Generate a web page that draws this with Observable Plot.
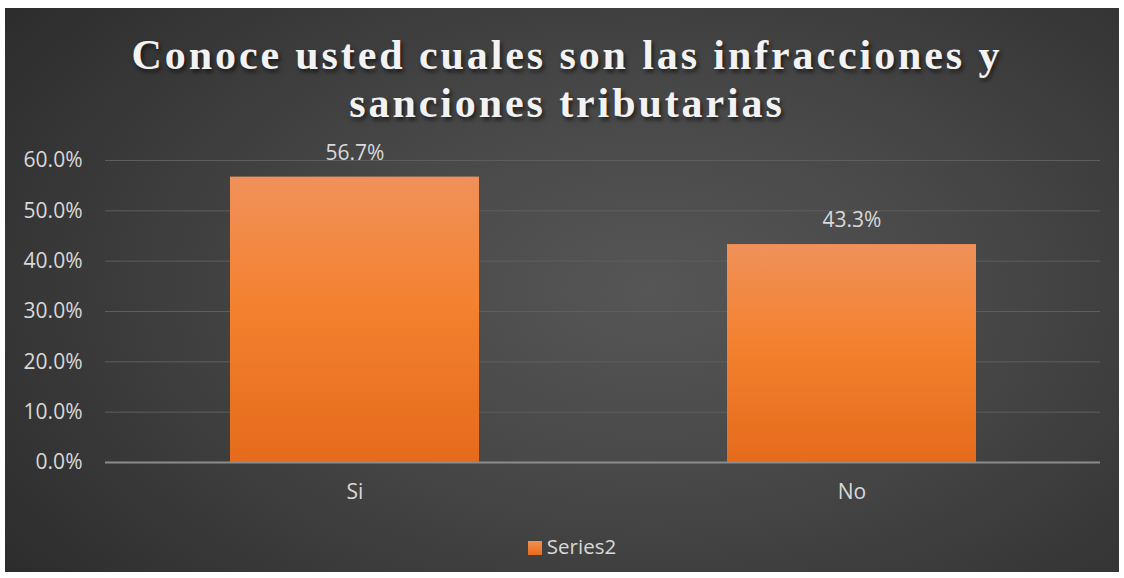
<!DOCTYPE html>
<html>
<head>
<meta charset="utf-8">
<script src="https://cdn.jsdelivr.net/npm/d3@7"></script>
<script src="https://cdn.jsdelivr.net/npm/@observablehq/plot@0.6"></script>
<style>
  html, body { margin: 0; padding: 0; background: #ffffff; }
  #wrap { position: relative; width: 1124px; height: 578px; overflow: hidden; background: #ffffff; }
  #bg { position: absolute; left: 5px; top: 8px; width: 1114px; height: 564px;
        background: radial-gradient(ellipse 75% 90% at 58% 50%, #565656 0%, #474747 40%, #2a2a2a 100%); }
  #title { position: absolute; left: 5px; top: 31px; width: 1124px; text-align: center;
           font-family: "Liberation Serif", "Times New Roman", serif; font-weight: bold;
           font-size: 42px; line-height: 48px; letter-spacing: 2.9px; color: #f2f2f2;
           text-shadow: 2px 3px 4px rgba(0,0,0,0.6); }
  #chart { position: absolute; left: 0; top: 0; }
  #legend { position: absolute; left: 10px; top: 532px; width: 1124px; text-align: center;
            font-family: "Open Sans", sans-serif; font-size: 20.5px; color: #d9d9d9; }
  #legend .sw { display: inline-block; width: 14px; height: 14px; vertical-align: -1px; margin-right: 5px;
                background: linear-gradient(#f0914f, #e86c1c); }
</style>
</head>
<body>
<div id="wrap">
  <div id="bg"></div>
  <div id="chart"></div>
  <div id="title">Conoce usted cuales son las infracciones y<br>sanciones tributarias</div>
  <div id="legend"><span class="sw"></span>Series2</div>
</div>
<script>
const categories = ["Si", "No"];
const values = [0.567, 0.433];
const seriesName = "Series2";
const yTicks = [0, 0.1, 0.2, 0.3, 0.4, 0.5, 0.6];

const data = categories.map((c, i) => ({category: c, value: values[i], series: seriesName}));
const fmt = d3.format(".1%");

const chart = Plot.plot({
  width: 1124,
  height: 578,
  marginLeft: 105,
  marginRight: 24,
  marginTop: 160,
  marginBottom: 116,
  style: {background: "transparent", fontFamily: "Open Sans, sans-serif", fontSize: "21px", color: "#d9d9d9"},
  x: {domain: categories, paddingInner: 0.5, paddingOuter: 0.25, label: null, tickSize: 0, tickPadding: 22},
  y: {domain: [0, 0.6], ticks: yTicks, tickFormat: fmt, label: null, tickSize: 0, tickPadding: 23},
  marks: [
    Plot.gridY(yTicks, {stroke: "#5e5e5e", strokeOpacity: 1, strokeWidth: 1}),
    Plot.barY(data, {x: "category", y: "value", fill: "url(#barGrad)",
      style: {filter: "drop-shadow(2px 2px 3px rgba(0,0,0,0.45))"}}),
    Plot.ruleY([0], {stroke: "#8c8c8c", strokeWidth: 2}),
    Plot.text(data, {x: "category", y: "value", text: d => fmt(d.value), dy: -24,
      fill: "#d9d9d9", fontSize: 21}),
    Plot.axisX({tickSize: 0, tickPadding: 22, fontSize: 21, fill: "#d9d9d9", label: null}),
    Plot.axisY({ticks: yTicks, tickFormat: fmt, tickSize: 0, tickPadding: 23, fontSize: 21, fill: "#d9d9d9", label: null})
  ]
});

const svg = d3.select(chart);
const defs = svg.insert("defs", ":first-child");
const g = defs.append("linearGradient").attr("id", "barGrad")
  .attr("x1", 0).attr("y1", 0).attr("x2", 0).attr("y2", 1);
g.append("stop").attr("offset", "0%").attr("stop-color", "#f0915a");
g.append("stop").attr("offset", "45%").attr("stop-color", "#f4812f");
g.append("stop").attr("offset", "100%").attr("stop-color", "#e46b1b");

document.getElementById("chart").appendChild(chart);
</script>
</body>
</html>
